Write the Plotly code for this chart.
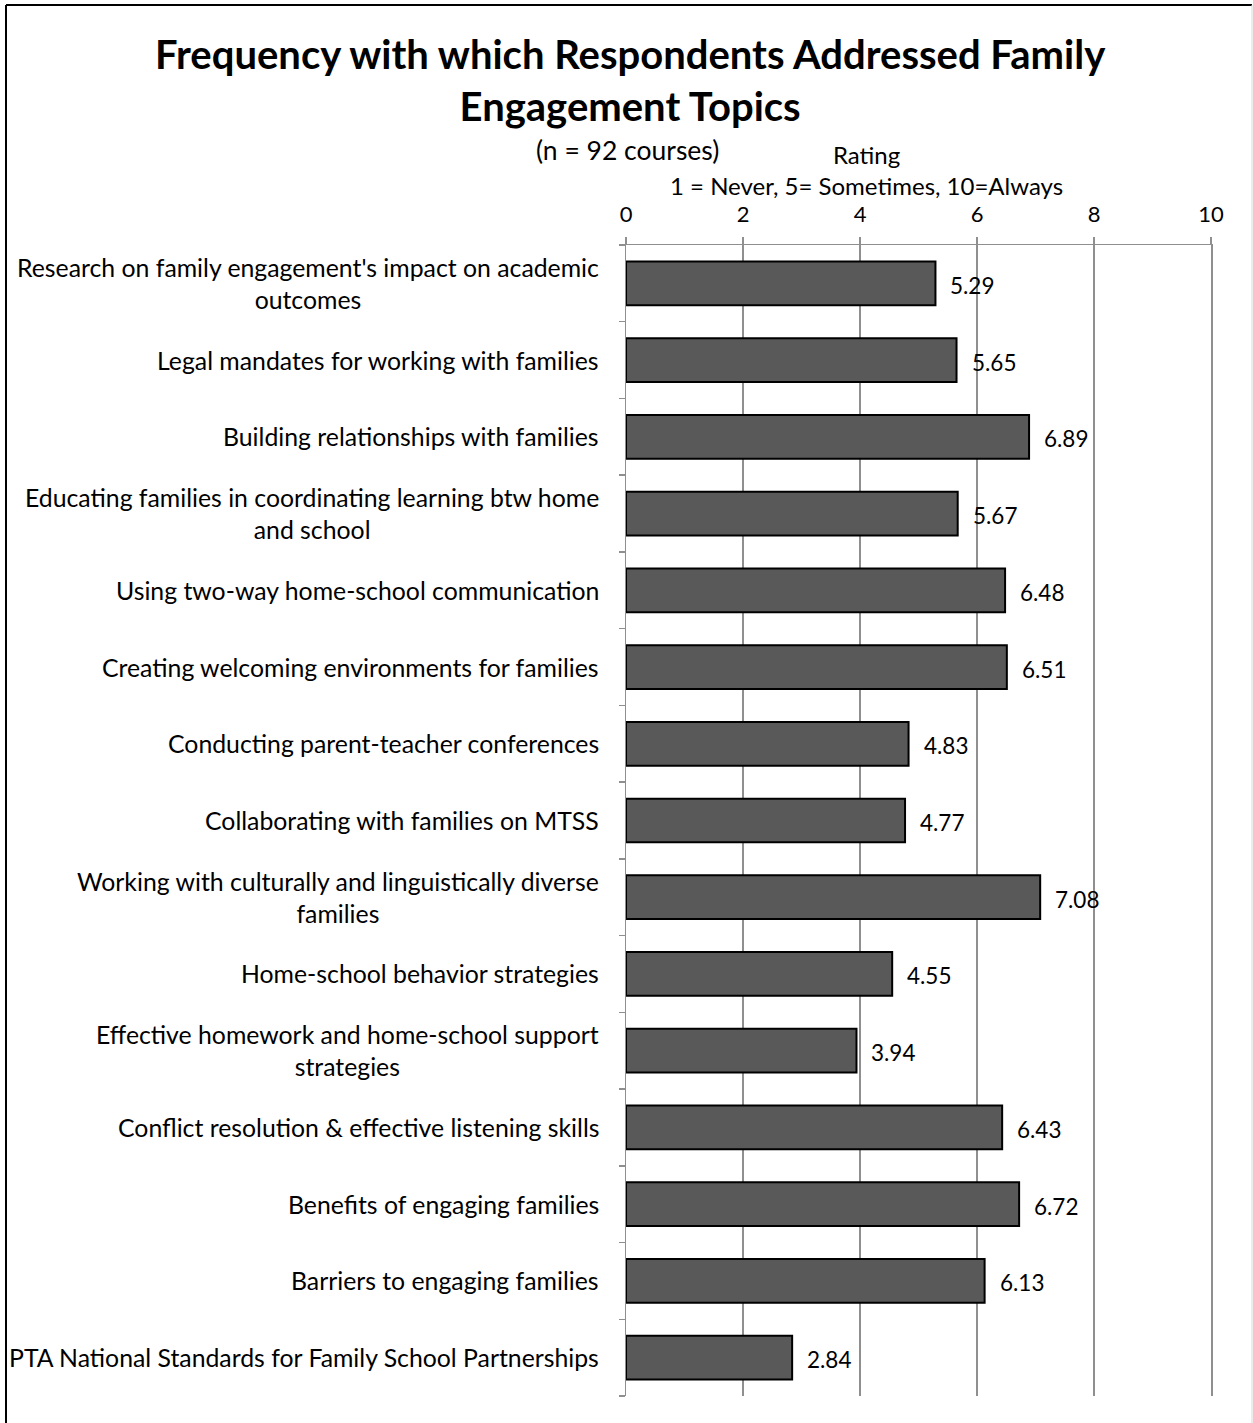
import plotly.graph_objects as go

categories = [
    "Research on family engagement's impact on academic<br>outcomes",
    "Legal mandates for working with families",
    "Building relationships with families",
    "Educating families in coordinating learning btw home<br>and school",
    "Using two-way home-school communication",
    "Creating welcoming environments for families",
    "Conducting parent-teacher conferences",
    "Collaborating with families on MTSS",
    "Working with culturally and linguistically diverse<br>families",
    "Home-school behavior strategies",
    "Effective homework and home-school support<br>strategies",
    "Conflict resolution & effective listening skills",
    "Benefits of engaging families",
    "Barriers to engaging families",
    "PTA National Standards for Family School Partnerships",
]
values = [5.29, 5.65, 6.89, 5.67, 6.48, 6.51, 4.83, 4.77, 7.08, 4.55, 3.94, 6.43, 6.72, 6.13, 2.84]
x_ticks = [0, 2, 4, 6, 8, 10]

title_text = "<b>Frequency with which Respondents Addressed Family<br>Engagement Topics</b>"
subtitle_text = "(n = 92 courses)"
axis_title_text = "Rating<br>1 = Never, 5= Sometimes, 10=Always"

FONT = "Lato, Carlito, Calibri, sans-serif"
W, H = 1253, 1423
L, R, T, B = 626, 42, 245, 27
PW, PH = W - L - R, H - T - B

def px_x(px):
    return (px - L) / PW

def px_y(py):
    return (H - B - py) / PH

fig = go.Figure()
fig.add_trace(go.Bar(
    x=values, y=list(range(len(categories))), orientation="h",
    marker=dict(color="#595959", line=dict(color="#000000", width=2)),
    width=0.57, hoverinfo="skip",
))

annotations = []
for i, (c, v) in enumerate(zip(categories, values)):
    annotations.append(dict(
        x=0, y=i, xref="x", yref="y", text=c, showarrow=False,
        xanchor="right", yanchor="middle", align="center", xshift=-25,
        font=dict(family=FONT, size=24.8, color="#000000"),
    ))
    annotations.append(dict(
        x=v, y=i, xref="x", yref="y", text=f"{v:.2f}", showarrow=False,
        xanchor="left", yanchor="middle", xshift=13, yshift=-2,
        font=dict(family=FONT, size=22.5, color="#000000"),
    ))

annotations.append(dict(
    x=px_x(630), y=px_y(80), xref="paper", yref="paper", text=title_text,
    showarrow=False, xanchor="center", yanchor="middle", align="center",
    font=dict(family=FONT, size=40, color="#000000"),
))
annotations.append(dict(
    x=px_x(627), y=px_y(150), xref="paper", yref="paper", text=subtitle_text,
    showarrow=False, xanchor="center", yanchor="middle",
    font=dict(family=FONT, size=26.5, color="#000000"),
))
annotations.append(dict(
    x=px_x(866), y=px_y(170), xref="paper", yref="paper", text=axis_title_text,
    showarrow=False, xanchor="center", yanchor="middle", align="center",
    font=dict(family=FONT, size=24, color="#000000"),
))

shapes = [
    dict(type="line", xref="paper", yref="paper", x0=px_x(6), x1=px_x(6), y0=px_y(5), y1=px_y(1430),
         line=dict(color="#000000", width=2)),
    dict(type="line", xref="paper", yref="paper", x0=px_x(6), x1=px_x(1252), y0=px_y(5), y1=px_y(5),
         line=dict(color="#000000", width=2)),
    dict(type="line", xref="paper", yref="paper", x0=px_x(1252), x1=px_x(1252), y0=px_y(5), y1=px_y(1430),
         line=dict(color="#d9d9d9", width=1)),
]

fig.update_layout(
    width=W, height=H,
    margin=dict(l=L, r=R, t=T, b=B, pad=0),
    paper_bgcolor="white", plot_bgcolor="white",
    showlegend=False,
    annotations=annotations,
    shapes=shapes,
    xaxis=dict(
        side="top", range=[0, 10], tickvals=x_ticks, ticktext=[str(t) for t in x_ticks],
        showgrid=True, gridcolor="#8f8f8f", gridwidth=1.5,
        showline=True, linecolor="#8f8f8f", linewidth=1.5,
        ticks="outside", ticklen=7, tickcolor="#8f8f8f", tickwidth=1.5,
        ticklabelstandoff=6,
        tickfont=dict(family=FONT, size=22, color="#000000"),
        zeroline=False, fixedrange=True,
    ),
    yaxis=dict(
        range=[len(categories) - 0.5, -0.5],
        tickvals=[i - 0.5 for i in range(len(categories) + 1)],
        showticklabels=False,
        showgrid=False, zeroline=False,
        showline=True, mirror=True, linecolor="#8f8f8f", linewidth=1.5,
        ticks="outside", ticklen=6, tickcolor="#8f8f8f", tickwidth=1.5,
        fixedrange=True,
    ),
)

fig.write_html(
    "out.html",
    config={"displayModeBar": False, "staticPlot": True},
    post_script="document.body.style.margin='0';document.body.style.overflow='hidden';",
)
